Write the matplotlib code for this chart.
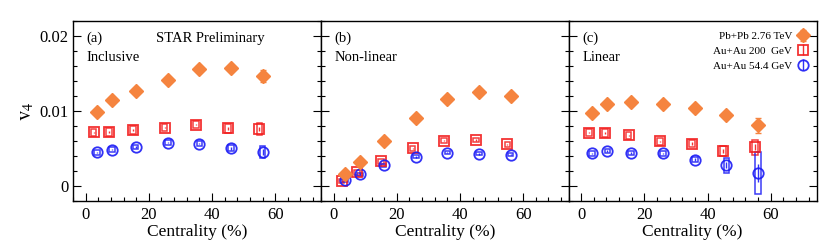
import matplotlib
matplotlib.use("Agg")
import matplotlib.pyplot as plt
from matplotlib.patches import Rectangle
from matplotlib.ticker import MultipleLocator
import numpy as np

plt.rcParams['font.family'] = ['Liberation Serif', 'DejaVu Serif']
plt.rcParams['mathtext.fontset'] = 'stix'

# Centrality bin positions
cent_pb = [3.5, 8.3, 15.8, 26, 36, 46, 56]
cent_200 = [2.5, 7.5, 15, 25, 35, 45, 55]
cent_54 = [3.5, 8.3, 15.8, 26, 36, 46, 56]

panel_tags = ["(a)", "(b)", "(c)"]
panel_names = ["Inclusive", "Non-linear", "Linear"]
series_labels = ["Pb+Pb 2.76 TeV", "Au+Au 200  GeV", "Au+Au 54.4 GeV"]

# Pb+Pb 2.76 TeV values and stat errors
pb_v4 = [
    [0.00983, 0.01147, 0.0127, 0.01418, 0.01556, 0.01578, 0.0147],
    [0.0016, 0.00324, 0.00596, 0.00902, 0.01164, 0.01249, 0.01196],
    [0.0097, 0.01093, 0.01124, 0.01093, 0.01036, 0.00947, 0.00813],
]
pb_err = [
    [0.0001, 0.0001, 0.0001, 0.0001, 0.0001, 0.0002, 0.0008],
    [0.0001, 0.0001, 0.0001, 0.0001, 0.0001, 0.0001, 0.0001],
    [0.0001, 0.0001, 0.0001, 0.0001, 0.0001, 0.0002, 0.001],
]
# Au+Au 200 GeV values, stat and sys errors
au200_v4 = [
    [0.00716, 0.0072, 0.0075, 0.0078, 0.0082, 0.0077, 0.0076],
    [0.00067, 0.00182, 0.00329, 0.00502, 0.00604, 0.00613, 0.00556],
    [0.00711, 0.0071, 0.00676, 0.00596, 0.00564, 0.00467, 0.00516],
]
au200_stat = [
    [0.0001, 0.0001, 0.0001, 0.0001, 0.0001, 0.0002, 0.0003],
    [0.0001, 0.0001, 0.0001, 0.0001, 0.0001, 0.0001, 0.0001],
    [0.0001, 0.0001, 0.0001, 0.0001, 0.0002, 0.0003, 0.0004],
]
au200_sys = [
    [0.0005, 0.0005, 0.0005, 0.0005, 0.0005, 0.0006, 0.0008],
    [0.0003, 0.0003, 0.0003, 0.0003, 0.0003, 0.0003, 0.0003],
    [0.0005, 0.0005, 0.0005, 0.0005, 0.0005, 0.0007, 0.001],
]
# Au+Au 54.4 GeV values, stat and sys errors
au54_v4 = [
    [0.00449, 0.00484, 0.0052, 0.00578, 0.00564, 0.00502, 0.00449],
    [0.00076, 0.0016, 0.00276, 0.0039, 0.00444, 0.00427, 0.0042],
    [0.00436, 0.00467, 0.0044, 0.00436, 0.00351, 0.0028, 0.0017],
]
au54_stat = [
    [0.0001, 0.0001, 0.0001, 0.0001, 0.0001, 0.0002, 0.0004],
    [0.0001, 0.0001, 0.0001, 0.0001, 0.0001, 0.0001, 0.0001],
    [0.0001, 0.0001, 0.0001, 0.0001, 0.0002, 0.0004, 0.0012],
]
au54_sys = [
    [0.0003, 0.0003, 0.0003, 0.0003, 0.0003, 0.0004, 0.0008],
    [0.0002, 0.0002, 0.0002, 0.0002, 0.0002, 0.0002, 0.0002],
    [0.0003, 0.0003, 0.0003, 0.0003, 0.0003, 0.001, 0.0028],
]

c_orange = '#F5843F'
c_red = '#F21C1C'
c_blue = '#1A1AF5'

fig = plt.figure(figsize=(8.3, 2.42), dpi=100)
W = 830.0
H = 242.0
lefts = [73, 321, 568.5]
width = 248
bottom = 1 - 201 / H
height = (201 - 21) / H
axes = []
for i in range(3):
    ax = fig.add_axes([lefts[i] / W, bottom, width / W, height])
    axes.append(ax)


def sys_boxes(ax, xs, ys, es, color, halfw=0.9):
    for x, y, e in zip(xs, ys, es):
        ax.add_patch(Rectangle((x - halfw, y - e), 2 * halfw, 2 * e,
                               fill=False, edgecolor=color, lw=1.1, alpha=0.85,
                               zorder=2))


handles = []
for i, ax in enumerate(axes):
    ax.set_xlim(-4, 74.5)
    ax.set_ylim(-0.002, 0.022)
    sys_boxes(ax, cent_200, au200_v4[i], au200_sys[i], c_red)
    sys_boxes(ax, cent_54, au54_v4[i], au54_sys[i], c_blue)
    h1 = ax.errorbar(cent_pb, pb_v4[i], yerr=pb_err[i], fmt='D', color=c_orange,
                     ms=7.5, mec=c_orange, mfc=c_orange, elinewidth=1.0, capsize=2,
                     zorder=4)
    h2 = ax.errorbar(cent_200, au200_v4[i], yerr=au200_stat[i], fmt='s', color=c_red,
                     ms=7, mfc='none', mec=c_red, mew=1.3, elinewidth=1.0,
                     capsize=0, alpha=0.9, zorder=3)
    h3 = ax.errorbar(cent_54, au54_v4[i], yerr=au54_stat[i], fmt='o', color=c_blue,
                     ms=7.5, mfc='none', mec=c_blue, mew=1.3, elinewidth=1.0,
                     capsize=0, alpha=0.9, zorder=3)
    if i == 2:
        handles = [h1, h2, h3]

    ax.xaxis.set_major_locator(MultipleLocator(20))
    ax.xaxis.set_minor_locator(MultipleLocator(4))
    ax.yaxis.set_major_locator(MultipleLocator(0.01))
    ax.yaxis.set_minor_locator(MultipleLocator(0.002))
    ax.tick_params(which='both', direction='in', left=True, right=True,
                   top=False, bottom=True, labelsize=12, width=0.8)
    ax.tick_params(which='major', length=6)
    ax.tick_params(which='minor', length=3)
    ax.tick_params(axis='x', pad=4)
    if i > 0:
        ax.tick_params(axis='y', labelleft=False)
    else:
        ax.yaxis.set_major_formatter(plt.FuncFormatter(
            lambda v, p: '0' if abs(v) < 1e-9 else ('%g' % v)))
    for s in ax.spines.values():
        s.set_linewidth(1.0)
    ax.set_xlabel('Centrality (%)', fontsize=12.5, labelpad=1)
    ax.text(0.055, 0.94, panel_tags[i], transform=ax.transAxes, fontsize=10.5,
            va='top', ha='left')
    ax.text(0.055, 0.835, panel_names[i], transform=ax.transAxes, fontsize=10.5,
            va='top', ha='left')

axes[0].text(0.333, 0.94, 'STAR Preliminary', transform=axes[0].transAxes,
             fontsize=10.5, va='top', ha='left')
axes[0].set_ylabel(r'$\mathrm{v}_{4}$', fontsize=15, labelpad=2)

leg = axes[2].legend(handles, series_labels, loc='upper right', frameon=False,
                     markerfirst=False, fontsize=8, handlelength=1.2,
                     handletextpad=0.4, labelspacing=0.45,
                     bbox_to_anchor=(1.0, 0.98), borderaxespad=0.2)

fig.savefig('out.png', dpi=100)
